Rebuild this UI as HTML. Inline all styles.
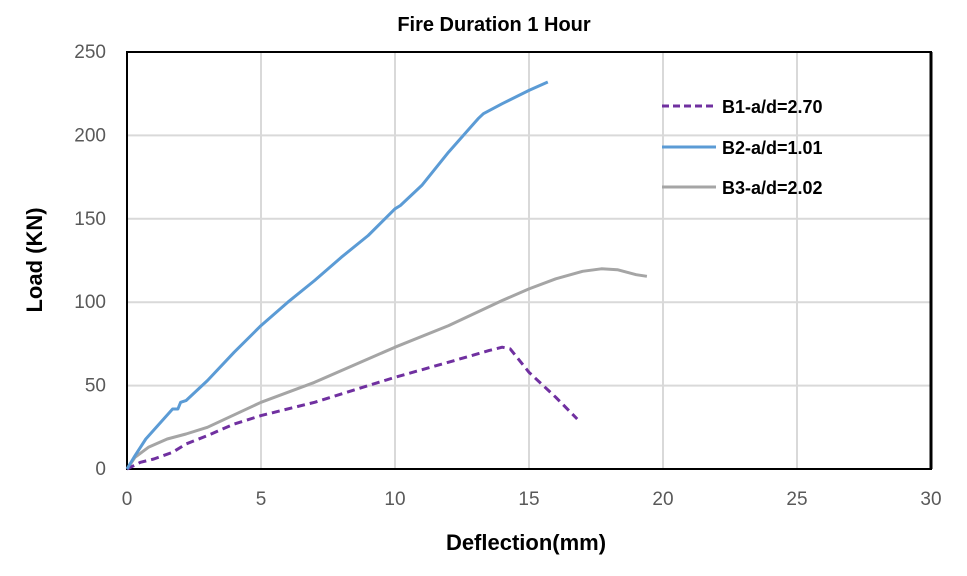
<!DOCTYPE html>
<html><head><meta charset="utf-8"><style>
body{margin:0;background:#fff;font-family:"Liberation Sans",Calibri,sans-serif}
</style></head><body>
<svg width="967" height="571" xmlns="http://www.w3.org/2000/svg" font-family="Liberation Sans, sans-serif">
<text x="494" y="31" text-anchor="middle" font-size="20" font-weight="bold">Fire Duration 1 Hour</text>
<g id="grid"></g>
<g id="ticks"></g>
<rect x="127" y="52" width="804" height="417" fill="none" stroke="#000" stroke-width="2"/>
<line x1="931" y1="52" x2="931" y2="469" stroke="#000" stroke-width="3"/>
<g id="series"></g>
<text x="526" y="550" text-anchor="middle" font-size="22" font-weight="bold">Deflection(mm)</text>
<text transform="translate(42,260) rotate(-90)" text-anchor="middle" font-size="22" font-weight="bold">Load (KN)</text>
<g font-size="18" font-weight="bold">
<g><line x1="662" y1="106" x2="716" y2="106" stroke="#7030a0" stroke-width="3" stroke-dasharray="7,4"/><text x="722" y="113">B1-a/d=2.70</text></g>
<g><line x1="662" y1="147" x2="716" y2="147" stroke="#5b9bd5" stroke-width="3"/><text x="722" y="154">B2-a/d=1.01</text></g>
<g><line x1="662" y1="187" x2="716" y2="187" stroke="#a5a5a5" stroke-width="3"/><text x="722" y="194">B3-a/d=2.02</text></g>
</g>
</svg>
<script>
const xTicks=[0,5,10,15,20,25,30];
const yTicks=[0,50,100,150,200,250];
const b1X=[0,0.5,1,1.7,2.2,3,4,5,7,10,12,13.5,14,14.3,15,16,16.8];
const b1Y=[0,4,6,10,15,20,27,32,40,55,64,71,73,72,58,43,30];
const b2X=[0,0.3,0.7,1.2,1.7,1.9,2.0,2.2,2.6,3,4,5,6,7,8,9,10,10.2,11,12,13.1,13.3,14,15,15.7];
const b2Y=[0,8,18,27,36,36,40,41,47,53,70,86,100,113,127,140,156,158,170,190,210,213,219,227,232];
const b3X=[0,0.3,0.8,1.5,2.2,3,5,7,10,12,14,15,16,17,17.7,18.3,19,19.4];
const b3Y=[0,7,13,18,21,25,40,52,73,86,101,108,114,118.5,120,119.5,116.5,115.5];
const X=v=>127+v*(804/30), Y=v=>469-v*(417/250);
const NS="http://www.w3.org/2000/svg";
const mk=(t,a,p)=>{const e=document.createElementNS(NS,t);for(const k in a)e.setAttribute(k,a[k]);p.appendChild(e);return e;};
const grid=document.getElementById('grid'),ticks=document.getElementById('ticks'),ser=document.getElementById('series');
xTicks.forEach(t=>{const l=mk('line',{x1:X(t),x2:X(t),y1:52,y2:469,stroke:'#d9d9d9','stroke-width':2},grid);


const tx=mk('text',{x:X(t),y:505,'text-anchor':'middle','font-size':19,fill:'#595959'},ticks);tx.textContent=t;

});
yTicks.forEach(t=>{const l=mk('line',{x1:127,x2:931,y1:Y(t),y2:Y(t),stroke:'#d9d9d9','stroke-width':2},grid);


const tx=mk('text',{x:106,y:Y(t)+6,'text-anchor':'end','font-size':19,fill:'#595959'},ticks);tx.textContent=t;

});
function line(xs,ys,col,dash,name){const d=xs.map((x,i)=>(i?'L':'M')+X(x).toFixed(1)+','+Y(ys[i]).toFixed(1)).join('');
const p=mk('path',{d:d,fill:'none',stroke:col,'stroke-width':3,'stroke-linejoin':'round'},ser);if(dash)p.setAttribute('stroke-dasharray',dash);

}
line(b3X,b3Y,'#a5a5a5',null,'series-b3');
line(b1X,b1Y,'#7030a0','8,5','series-b1');
line(b2X,b2Y,'#5b9bd5',null,'series-b2');
</script>
</body></html>
